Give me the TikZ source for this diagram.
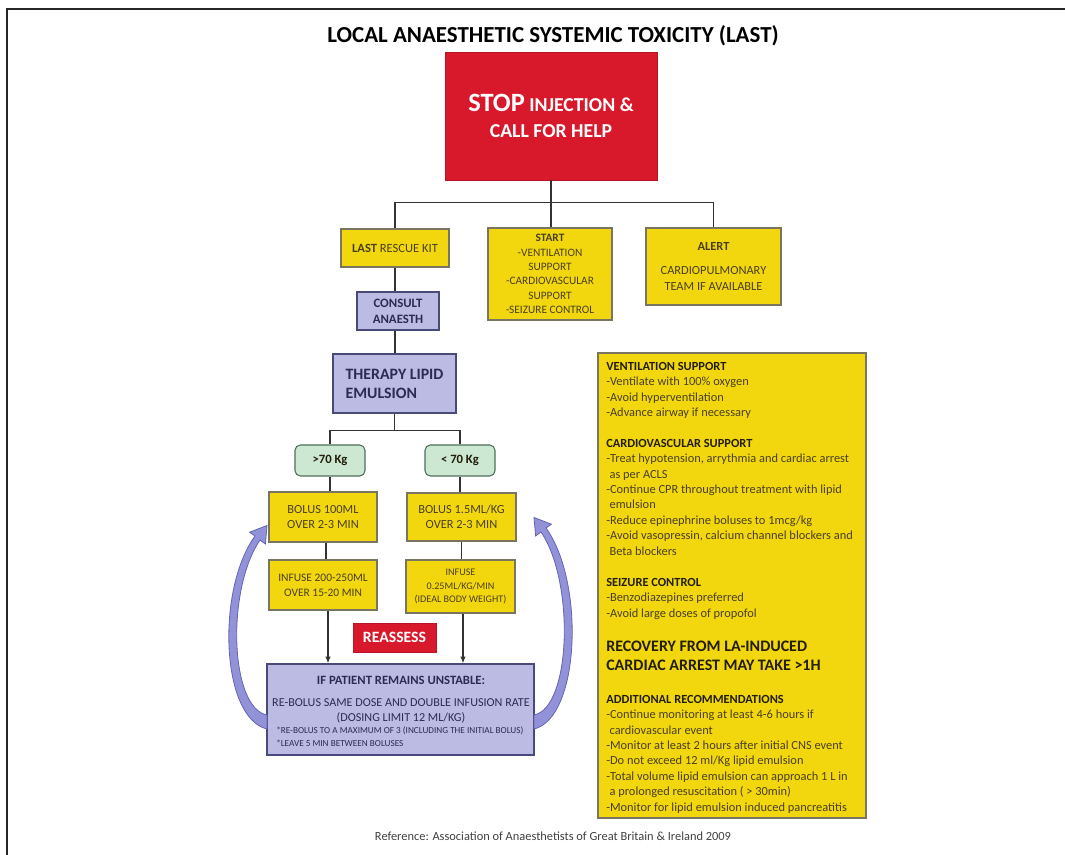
\documentclass[tikz,border=0pt]{standalone}
\usepackage{fontspec}
\setmainfont{Carlito}
\usetikzlibrary{arrows.meta,calc}
\definecolor{yel}{HTML}{F2D70E}
\definecolor{ybd}{HTML}{7A7560}
\definecolor{red1}{HTML}{D8192B}
\definecolor{lav}{HTML}{BBBBE3}
\definecolor{lavd}{HTML}{4A4A7A}
\definecolor{grn}{HTML}{CDE8D2}
\definecolor{grnd}{HTML}{4F6F58}
\definecolor{ytxt}{HTML}{4A4020}
\definecolor{ydark}{HTML}{221E08}
\definecolor{navy}{HTML}{2B2B55}
\definecolor{arr}{HTML}{9292D8}
\definecolor{arrd}{HTML}{6464B4}
\begin{document}
\begin{tikzpicture}[x=0.75pt,y=-0.75pt,
  conn/.style={draw=black!80, line width=0.9pt},
  wh/.style 2 args={minimum width=#1*0.75pt, minimum height=#2*0.75pt},
  ybox/.style={draw=ybd, fill=yel, line width=0.8pt, inner sep=0pt, align=center, text=ytxt},
  lbox/.style={draw=lavd, fill=lav, line width=0.9pt, inner sep=0pt, align=center, text=navy},
  rbox/.style={fill=red1, draw=red1!85!black, text=white, inner sep=0pt, align=center},
  gbox/.style={draw=grnd, fill=grn, line width=0.8pt, rounded corners=4pt, inner sep=0pt, text=ydark},
  ptxt/.style={anchor=north west, inner sep=0pt, align=left, text=ytxt, font=\fontsize{9.3}{11.55}\selectfont},
  curv/.style={fill=arr, draw=arrd, line width=0.6pt},
  tip/.style={-{Latex[length=5pt,width=4pt]}}
]
\useasboundingbox (0,0) rectangle (1065,855);
\draw[line width=2.2pt, draw=black!85] (7,855) -- (7,9) -- (1065,9);

\node[font=\fontsize{17.2}{20}\selectfont\bfseries, text=black] (title) at (553,36) {LOCAL ANAESTHETIC SYSTEMIC TOXICITY (LAST)};

\node[rbox, wh={212}{128}, font=\fontsize{14.8}{20}\selectfont\bfseries] (stop) at (551,116) {{\fontsize{19.8}{20}\selectfont STOP} INJECTION \&\\CALL FOR HELP};

\node[ybox, wh={108}{38}, font=\fontsize{9.4}{11}\selectfont] (lrk) at (395,248) {\textbf{LAST} RESCUE KIT};
\node[ybox, wh={124}{92}, font=\fontsize{8.5}{10.8}\selectfont] (start) at (550,274) {\textbf{START}\\-VENTILATION\\SUPPORT\\-CARDIOVASCULAR\\SUPPORT\\-SEIZURE CONTROL};
\node[ybox, wh={135}{77}, font=\fontsize{9.3}{12}\selectfont] (alert) at (713.5,266.5) {\textbf{ALERT}\\[6pt]CARDIOPULMONARY\\TEAM IF AVAILABLE};

\node[lbox, wh={82}{38}, font=\fontsize{9.6}{12}\selectfont\bfseries] (consult) at (398,311) {CONSULT\\ANAESTH};
\node[lbox, wh={123}{59}, align=left, font=\fontsize{11.9}{14.3}\selectfont\bfseries] (therapy) at (394.5,383.5) {THERAPY LIPID\\EMULSION};

\node[gbox, wh={70}{31}, font=\fontsize{9.5}{10}\selectfont\bfseries] (g1) at (330,460.5) {>70 Kg};
\node[gbox, wh={70}{31}, font=\fontsize{9.5}{10}\selectfont\bfseries] (g2) at (460,460.5) {< 70 Kg};

\node[ybox, wh={108}{50}, font=\fontsize{9.3}{11.3}\selectfont] (bA) at (323,517) {BOLUS 100ML\\OVER 2-3 MIN};
\node[ybox, wh={109}{48}, font=\fontsize{9.3}{11.3}\selectfont] (bB) at (461.5,517) {BOLUS 1.5ML/KG\\OVER 2-3 MIN};
\node[ybox, wh={108}{50}, font=\fontsize{8.6}{11.5}\selectfont] (iA) at (323,585) {INFUSE 200-250ML\\OVER 15-20 MIN};
\node[ybox, wh={109}{53}, font=\fontsize{7.6}{10}\selectfont] (iB) at (460.5,586.5) {INFUSE\\0.25ML/KG/MIN\\(IDEAL BODY WEIGHT)};

\node[rbox, wh={83}{29}, font=\fontsize{11.8}{13}\selectfont\bfseries] (reas) at (394.5,637.5) {REASSESS};

\node[lbox, wh={267}{91}] (ifbox) at (400.5,709.5) {};
\node[inner sep=0pt, text=navy, font=\fontsize{9.5}{10}\selectfont\bfseries] (ift) at (401,680) {IF PATIENT REMAINS UNSTABLE:};
\node[inner sep=0pt, align=center, text=navy, font=\fontsize{9.1}{11.2}\selectfont] (ifb) at (401,710.5) {RE-BOLUS SAME DOSE AND DOUBLE INFUSION RATE\\(DOSING LIMIT 12 ML/KG)};
\node[inner sep=0pt, anchor=west, align=left, text=navy, font=\fontsize{6.9}{9.7}\selectfont] (ifn) at (276,736.5) {*RE-BOLUS TO A MAXIMUM OF 3 (INCLUDING THE INITIAL BOLUS)\\*LEAVE 5 MIN BETWEEN BOLUSES};

% connectors
\draw[conn] (stop.south) -- ++(0,22) coordinate (hub);
\draw[conn] (hub) -| (lrk.north);
\draw[conn] (hub) -| (alert.north);
\draw[conn] (hub) -- (hub |- start.north);
\draw[conn] (lrk.south) -- (lrk.south |- consult.north);
\draw[conn] (lrk.south |- consult.south) -- (lrk.south |- therapy.north);
\draw[conn] (therapy.south) -- ++(0,17) coordinate (hub2);
\draw[conn] (hub2) -| (g1.north);
\draw[conn] (hub2) -| (g2.north);
\draw[conn] (g1.south) -- (g1.south |- bA.north);
\draw[conn] (g2.south) -- (g2.south |- bB.north);
\draw[conn] ($(bA.south)+(3,0)$) -- ($(iA.north)+(3,0)$);
\draw[conn] (bB.south) -- (bB.south |- iB.north);
\draw[conn, tip] ($(iA.south)+(5,0)$) -- ($(iA.south |- ifbox.north)+(5,0)$);
\draw[conn, tip] ($(iB.south)+(2.5,0)$) -- ($(iB.south |- ifbox.north)+(2.5,0)$);

% curved return arrows
\filldraw[curv] (267,729) .. controls (221,718) and (216,590) .. (255,536) -- (249.6,532.2) -- (267,525.5) -- (265.4,544) -- (260,540) .. controls (226,590) and (230,708) .. (267,715) -- cycle;
\filldraw[curv] (534,729) .. controls (580,718) and (585,582) .. (546,528) -- (551.4,524.2) -- (534,517.5) -- (535.6,536) -- (541,532) .. controls (575,582) and (571,708) .. (534,715) -- cycle;

% right panel
\node[ybox, wh={268}{465}] (panel) at (732,585.5) {};
\node[ptxt] (s1) at (606,362) {\textcolor{ydark}{\textbf{VENTILATION SUPPORT}}\\-Ventilate with 100\% oxygen\\-Avoid hyperventilation\\-Advance airway if necessary};
\node[ptxt] (s2) at (606,439) {\textcolor{ydark}{\textbf{CARDIOVASCULAR SUPPORT}}\\-Treat hypotension, arrythmia and cardiac arrest\\\hspace*{2.5pt}as per ACLS\\-Continue CPR throughout treatment with lipid\\\hspace*{2.5pt}emulsion\\-Reduce epinephrine boluses to 1mcg/kg\\-Avoid vasopressin, calcium channel blockers and\\\hspace*{2.5pt}Beta blockers};
\node[ptxt] (s3) at (606,578) {\textcolor{ydark}{\textbf{SEIZURE CONTROL}}\\-Benzodiazepines preferred\\-Avoid large doses of propofol};
\node[ptxt, text=ydark, font=\fontsize{12}{14.3}\selectfont\bfseries] (s4) at (606,641) {RECOVERY FROM LA-INDUCED\\CARDIAC ARREST MAY TAKE >1H};
\node[ptxt] (s5) at (606,695) {\textcolor{ydark}{\textbf{ADDITIONAL RECOMMENDATIONS}}\\-Continue monitoring at least 4-6 hours if\\\hspace*{2.5pt}cardiovascular event\\-Monitor at least 2 hours after initial CNS event\\-Do not exceed 12 ml/Kg lipid emulsion\\-Total volume lipid emulsion can approach 1 L in\\\hspace*{2.5pt}a prolonged resuscitation ( > 30min)\\-Monitor for lipid emulsion induced pancreatitis};

\node[font=\fontsize{9.3}{10}\selectfont, text=black!75] (ref) at (553,836) {Reference: Association of Anaesthetists of Great Britain \& Ireland 2009};
\end{tikzpicture}
\end{document}
